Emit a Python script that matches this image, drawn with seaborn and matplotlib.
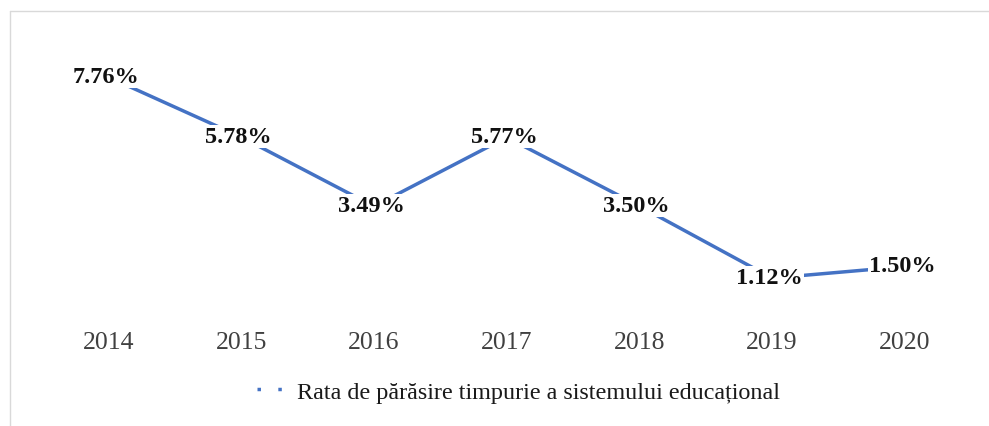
import matplotlib
matplotlib.use("Agg")
import matplotlib.pyplot as plt
import seaborn as sns
import pandas as pd
from matplotlib.lines import Line2D

# --- data ---
years = ["2014", "2015", "2016", "2017", "2018", "2019", "2020"]
rates = [7.76, 5.78, 3.49, 5.77, 3.50, 1.12, 1.50]
series_name = "Rata de părăsire timpurie a sistemului educațional"

BLUE = "#4472C4"

sns.set_theme(style="white")
plt.rcParams["font.family"] = ["Liberation Serif", "DejaVu Serif"]

df = pd.DataFrame({"an": years, "rata": rates})
df["x"] = range(len(years))

fig = plt.figure(figsize=(9.89, 4.27), dpi=100)
ax = fig.add_axes([0.0425, 0.267, 0.9395, 0.638])

sns.lineplot(data=df, x="x", y="rata", ax=ax, color=BLUE, linewidth=2.5)

# labels with white box over the line (like Excel data labels)
for xi, v in zip(df["x"], df["rata"]):
    ax.text(xi - 0.02, v + 0.02, f"{v:.2f}%", ha="center", va="center",
            fontsize=17.5, fontweight="bold", color="#111111",
            bbox=dict(boxstyle="square,pad=0.05", fc="white", ec="none"))

ax.set_xlim(-0.5, len(years) - 0.5)
ax.set_ylim(0, 9)
ax.set_xticks(df["x"])
ax.set_xticklabels(years, fontsize=18.5, color="#404040")
ax.tick_params(axis="x", length=0, pad=14)
ax.set_yticks([])
ax.set_xlabel("")
ax.set_ylabel("")
sns.despine(ax=ax, left=True, bottom=True, top=True, right=True)

handle = Line2D([], [], color=BLUE, linewidth=2.5, linestyle=(0, (1, 5)))
fig.legend([handle], [series_name], loc="center", bbox_to_anchor=(0.524, 0.08),
           frameon=False, fontsize=17.4, handlelength=1.4, handletextpad=0.25,
           labelcolor="#1a1a1a")

# light chart border (top and left visible)
fig.add_artist(Line2D([10 / 989, 10 / 989], [0, 1 - 12 / 427],
                      transform=fig.transFigure, color="#d9d9d9", linewidth=1))
fig.add_artist(Line2D([10 / 989, 1], [1 - 12 / 427, 1 - 12 / 427],
                      transform=fig.transFigure, color="#d9d9d9", linewidth=1))

fig.savefig("out.png", dpi=100, facecolor="white")
